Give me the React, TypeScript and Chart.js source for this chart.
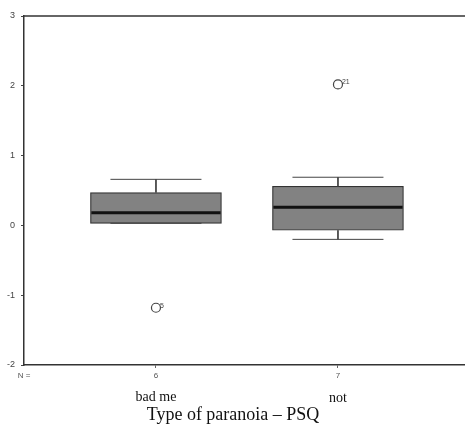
import React, { useEffect, useRef } from 'react';
import { Chart, registerables } from 'chart.js';

Chart.register(...registerables);

const categories = ['bad me', 'not'];
const counts = ['6', '7'];
const q1 = [0.03, -0.07];
const q3 = [0.47, 0.56];
const medians = [0.18, 0.26];
const whiskerLow = [0.03, -0.2];
const whiskerHigh = [0.66, 0.69];
const outlierGroups = [0, 1];
const outlierValues = [-1.18, 2.02];
const outlierLabels = ['5', '21'];
const yTicks = [3, 2, 1, 0, -1, -2];
const xTitle = 'Type of paranoia \u2013 PSQ';

const CAP_HALF = 0.25;
const BOX_HALF = 0.355;
const SANS = '"Liberation Sans", Arial, sans-serif';
const SERIF = '"Liberation Serif", "Times New Roman", serif';

export default function App() {
  const ref = useRef<HTMLCanvasElement | null>(null);

  useEffect(() => {
    document.body.style.margin = '0';
    document.body.style.background = '#fff';
    const canvas = ref.current;
    if (!canvas) return;

    const pos = (i: number) => i + 1;
    const gap = (i: number) => ({ x: pos(i), y: null as any });

    const whiskerData: any[] = [];
    const medianData: any[] = [];
    categories.forEach((_, i) => {
      const p = pos(i);
      whiskerData.push(
        { x: p - CAP_HALF, y: whiskerHigh[i] }, { x: p + CAP_HALF, y: whiskerHigh[i] }, gap(i),
        { x: p, y: whiskerHigh[i] }, { x: p, y: q3[i] }, gap(i),
        { x: p, y: q1[i] }, { x: p, y: whiskerLow[i] }, gap(i),
        { x: p - CAP_HALF, y: whiskerLow[i] }, { x: p + CAP_HALF, y: whiskerLow[i] }, gap(i)
      );
      medianData.push({ x: p - BOX_HALF, y: medians[i] }, { x: p + BOX_HALF, y: medians[i] }, gap(i));
    });

    const outlierData = outlierValues.map((v, k) => ({ x: pos(outlierGroups[k]), y: v }));

    const textPlugin = {
      id: 'textPlugin',
      afterDraw(chart: any) {
        const { ctx, chartArea, scales } = chart;
        ctx.save();
        // top frame line
        ctx.strokeStyle = '#333';
        ctx.lineWidth = 1.5;
        ctx.beginPath();
        ctx.moveTo(chartArea.left, chartArea.top);
        ctx.lineTo(chartArea.right, chartArea.top);
        ctx.stroke();

        // N =
        ctx.fillStyle = '#555';
        ctx.font = `8px ${SANS}`;
        ctx.textAlign = 'center';
        ctx.textBaseline = 'middle';
        ctx.fillText('N =', chartArea.left, chartArea.bottom + 11);

        // category names
        ctx.fillStyle = '#111';
        ctx.font = `14px ${SERIF}`;
        categories.forEach((c, i) => {
          const x = scales.x.getPixelForValue(pos(i));
          ctx.fillText(c, x, chartArea.bottom + 32 + i);
        });

        // title
        ctx.font = `18px ${SERIF}`;
        ctx.fillText(xTitle, (chartArea.left + chartArea.right) / 2 - 11.5, chartArea.bottom + 50);

        // outlier labels
        ctx.fillStyle = '#444';
        ctx.font = `7px ${SANS}`;
        ctx.textAlign = 'left';
        outlierValues.forEach((v, k) => {
          const x = scales.x.getPixelForValue(pos(outlierGroups[k]));
          const y = scales.y.getPixelForValue(v);
          ctx.fillText(outlierLabels[k], x + 4, y - 2);
        });
        ctx.restore();
      },
    };

    const chart = new Chart(canvas, {
      type: 'bar',
      data: {
        datasets: [
          {
            type: 'bar',
            data: categories.map((_, i) => ({ x: pos(i), y: [q1[i], q3[i]] })) as any,
            backgroundColor: '#828282',
            borderColor: '#333',
            borderWidth: 1.2,
            borderSkipped: false,
            barThickness: 131,
            grouped: false,
            order: 4,
          } as any,
          {
            type: 'line',
            data: whiskerData,
            borderColor: '#444',
            borderWidth: 1,
            pointRadius: 0,
            spanGaps: false,
            fill: false,
            order: 3,
          } as any,
          {
            type: 'line',
            data: medianData,
            borderColor: '#111',
            borderWidth: 3,
            pointRadius: 0,
            spanGaps: false,
            fill: false,
            order: 2,
          } as any,
          {
            type: 'line',
            data: outlierData,
            showLine: false,
            pointStyle: 'circle',
            pointRadius: 4.5,
            pointBorderWidth: 1.2,
            pointBorderColor: '#444',
            pointBackgroundColor: 'rgba(0,0,0,0)',
            order: 1,
          } as any,
        ],
      },
      options: {
        animation: false,
        responsive: true,
        maintainAspectRatio: false,
        layout: { autoPadding: false, padding: { top: 16, right: 0, left: 0, bottom: 0 } },
        plugins: { legend: { display: false }, tooltip: { enabled: false } },
        scales: {
          x: {
            type: 'linear',
            offset: false,
            min: 0.275,
            max: 2.698,
            afterBuildTicks: (s: any) => {
              s.ticks = counts.map((_, i) => ({ value: pos(i) }));
            },
            afterFit: (s: any) => {
              s.height = 63;
              s.paddingRight = 0;
              s.paddingLeft = 0;
            },
            ticks: {
              callback: (_v: any, i: number) => counts[i],
              font: { size: 8, family: SANS },
              color: '#555',
              padding: 3,
              maxRotation: 0,
            },
            grid: { offset: false, drawOnChartArea: false, tickLength: 3, color: '#666' },
            border: { color: '#333', width: 1.5 },
          },
          y: {
            min: -2,
            max: 3,
            afterBuildTicks: (s: any) => {
              s.ticks = yTicks.map((v) => ({ value: v }));
            },
            afterFit: (s: any) => {
              s.width = 24;
            },
            ticks: {
              font: { size: 9, family: SANS },
              color: '#444',
              padding: 6,
            },
            grid: { drawOnChartArea: false, tickLength: 3, color: '#444' },
            border: { color: '#333', width: 1.5 },
          },
        },
      },
      plugins: [textPlugin],
    });

    return () => chart.destroy();
  }, []);

  return (
    <div style={{ position: 'relative', width: 465, height: 428 }}>
      <canvas ref={ref} />
    </div>
  );
}
